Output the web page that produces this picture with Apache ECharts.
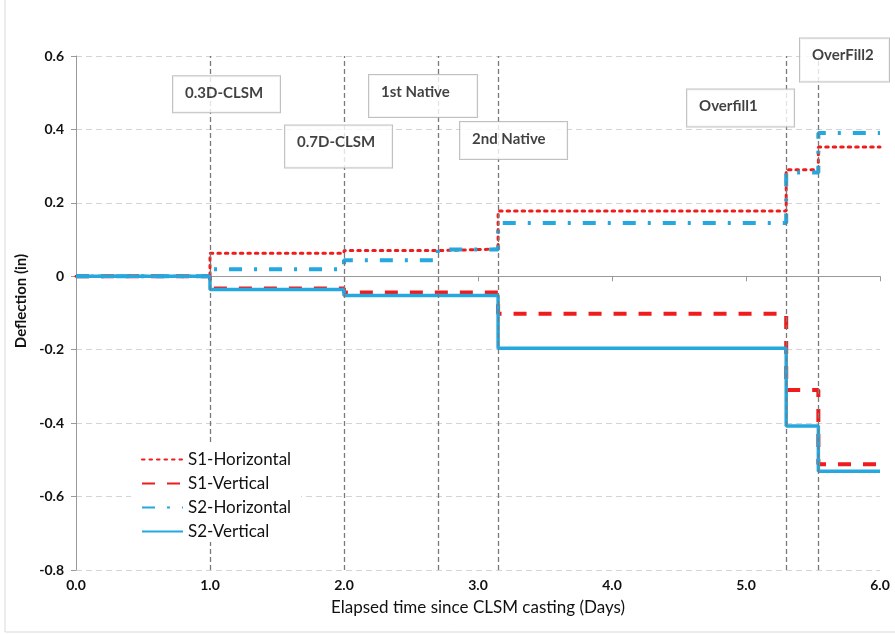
<!DOCTYPE html>
<html>
<head>
<meta charset="utf-8">
<script src="https://cdn.jsdelivr.net/npm/echarts@6/dist/echarts.min.js"></script>
<style>html,body{margin:0;padding:0;background:#fff;}#c{width:895px;height:635px;}</style>
</head>
<body>
<div id="c"></div>
<script>
// Step x positions (days)
const stepX = [0, 1.0, 2.0, 2.7, 3.15, 5.3, 5.54, 6.0];
// Series values (in), value held from stepX[i] to stepX[i+1]
const s1Horizontal = [0, 0.063, 0.070, 0.074, 0.178, 0.290, 0.352, 0.352];
const s1Vertical   = [0, -0.033, -0.044, -0.044, -0.102, -0.310, -0.512, -0.512];
const s2Horizontal = [0, 0.019, 0.044, 0.073, 0.145, 0.283, 0.390, 0.390];
const s2Vertical   = [0, -0.036, -0.052, -0.052, -0.196, -0.408, -0.531, -0.531];
// Event lines (days)
const eventX = [1.0, 2.0, 2.7, 3.15, 5.3, 5.54];
// Annotation texts and their anchor (top-left corner, data coords)
const annoText = ['0.3D-CLSM', '0.7D-CLSM', '1st Native', '2nd Native', 'Overfill1', 'OverFill2'];
const annoX = [0.724, 1.560, 2.187, 2.866, 4.560, 5.403];
const annoY = [0.545, 0.411, 0.548, 0.420, 0.509, 0.648];

const RED = '#ee1c1c', BLUE = '#25a8df';
const FONT = 'Lato, "Open Sans", sans-serif';
const boxW = [107, 107, 108, 107, 107, 89];
const boxH = [36, 42, 42, 37, 37, 43];

function pts(vals){ return stepX.map((x,i)=>[x, vals[i]]); }

const chart = echarts.init(document.getElementById('c'), null, {renderer:'canvas'});
const lineBase = {type:'line', step:'end', showSymbol:false, symbol:'none', animation:false};
chart.setOption({
  backgroundColor:'#fff',
  animation:false,
  grid:{left:76, right:15, top:56, bottom:65},
  xAxis:{
    type:'value', min:0, max:6, interval:1,
    name:'Elapsed time since CLSM casting (Days)', nameLocation:'middle', nameGap:29,
    nameTextStyle:{fontFamily:FONT, fontSize:17, color:'#111'},
    axisLine:{show:true, lineStyle:{color:'#999', width:1}},
    axisTick:{show:true, inside:false, length:5, lineStyle:{color:'#999'}},
    splitLine:{show:false},
    axisLabel:{fontFamily:FONT, fontSize:14, fontWeight:'bold', color:'#111', margin:8,
      formatter:v=>v.toFixed(1)}
  },
  yAxis:{
    type:'value', min:-0.8, max:0.6, interval:0.2,
    name:'Deflection (in)', nameLocation:'middle', nameGap:45, nameRotate:90,
    nameTextStyle:{fontFamily:FONT, fontSize:15, fontWeight:'bold', color:'#111', padding:[0,0,0,24]},
    axisLine:{show:true, lineStyle:{color:'#999', width:1}},
    axisTick:{show:true, length:5, lineStyle:{color:'#999'}},
    splitLine:{show:true, lineStyle:{color:'#d4d4d4', type:[6,4], width:1}},
    axisLabel:{fontFamily:FONT, fontSize:14, fontWeight:'bold', color:'#111', margin:12,
      formatter:v=>Math.abs(v)<1e-9?'0':v.toFixed(1)}
  },
  legend:{
    orient:'vertical', left:131, top:443, itemWidth:41, itemHeight:14, itemGap:7,
    padding:[8,10,8,10], z:30,
    itemStyle:{opacity:0},
    textStyle:{fontFamily:FONT, fontSize:17, color:'#111'},
    data:['S1-Horizontal','S1-Vertical','S2-Horizontal','S2-Vertical']
  },
  series:[
    Object.assign({}, lineBase, {name:'S1-Horizontal', data:pts(s1Horizontal), color:RED, z:3,
      lineStyle:{color:RED, width:3, type:[2.5,5], cap:'round'},
      markLine:{silent:true, symbol:'none', label:{show:false}, animation:false,
        lineStyle:{color:'#7a7a7a', type:[5,3], width:1.3},
        data:eventX.map(x=>({xAxis:x}))}
    }),
    Object.assign({}, lineBase, {name:'S1-Vertical', data:pts(s1Vertical), color:RED, z:3,
      lineStyle:{color:RED, width:4, type:[13,12]}}),
    Object.assign({}, lineBase, {name:'S2-Horizontal', data:pts(s2Horizontal), color:BLUE, z:3,
      lineStyle:{color:BLUE, width:4, type:[13,12,3,12]}}),
    Object.assign({}, lineBase, {name:'S2-Vertical', data:pts(s2Vertical), color:BLUE, z:4,
      lineStyle:{color:BLUE, width:3.5, type:'solid'}}),
    {
      type:'scatter', name:'annot', symbolSize:0, z:10, silent:true, animation:false, clip:false,
      data: annoText.map((t,i)=>({
        value:[annoX[i], annoY[i]],
        label:{
          show:true, position:'inside', formatter:t,
          fontFamily:FONT, fontSize:15, fontWeight:'bold', color:'#111',
          backgroundColor:'#fff', borderColor:'#b0b0b0', borderWidth:1,
          width:boxW[i]-23, height:16, padding:[9,11,boxH[i]-25,12], lineHeight:16,
          align:'left', verticalAlign:'top'
        }
      }))
    }
  ],
  graphic:[
    {type:'rect', shape:{x:5, y:-2, width:900, height:634}, style:{fill:'none', stroke:'#d9d9d9', lineWidth:1}, silent:true, z:-1},
    {type:'rect', shape:{x:131, y:444, width:170, height:98}, style:{fill:'#fff'}, silent:true, z:20}
  ]
});
</script>
</body>
</html>
